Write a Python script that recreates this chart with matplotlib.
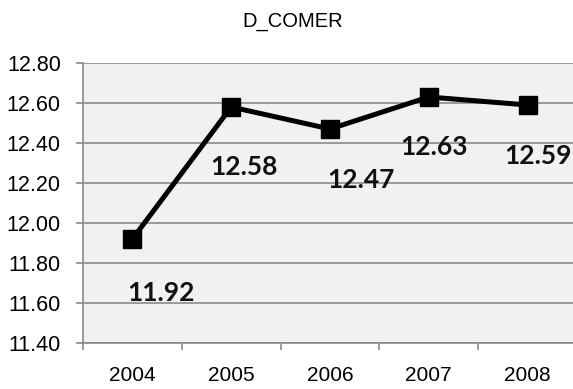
import matplotlib.pyplot as plt
import numpy as np

#data
years = ['2004', '2005', '2006', '2007', '2008']
values = [11.92, 12.58, 12.47, 12.63, 12.59]
#where each value label sits, relative to its point (pixels)
label_offsets = [(29, -54), (13, -60), (31, -51), (5, -50), (10, -51)]

plt.rcParams['font.family'] = ['Liberation Sans', 'DejaVu Sans']

fig = plt.figure(figsize=(5.73, 3.89), dpi=100)
ax = fig.add_axes([0.1449, 0.1183, 0.862, 0.7198])
ax.set_facecolor('#f1f1f1')

x = np.arange(len(years))
ax.plot(x, values, color='black', linewidth=3.6, marker='s', markersize=13,
        solid_joinstyle='miter')

#value labels
for xi, v, off in zip(x, values, label_offsets):
    ax.annotate(f'{v:.2f}', (xi, v), xytext=off, textcoords='offset pixels',
                ha='center', va='center', fontsize=19, fontweight='bold',
                family=['Lato', 'DejaVu Sans'], color='#111111')

#axes setup
ax.set_xlim(-0.5, len(years) - 0.5)
ax.set_ylim(11.40, 12.80)
ax.set_yticks(np.arange(11.40, 12.81, 0.20))
ax.set_yticklabels([f'{t:.2f}' for t in np.arange(11.40, 12.81, 0.20)])
ax.yaxis.grid(True, color='#8a8a8a', linewidth=1.2)
ax.set_axisbelow(True)

ax.set_xticks(np.arange(-0.5, len(years), 1.0))
ax.set_xticklabels([])
ax.set_xticks(x, minor=True)
ax.set_xticklabels(years, minor=True)
ax.tick_params(axis='x', which='minor', length=0, pad=16.5, labelsize=15)
ax.tick_params(axis='x', which='major', length=5, color='#8a8a8a', width=1.2)
ax.tick_params(axis='y', length=5, color='#8a8a8a', width=1.2, pad=11, labelsize=15.5)

for side in ['top', 'right']:
    ax.spines[side].set_visible(False)
for side in ['left', 'bottom']:
    ax.spines[side].set_color('#8a8a8a')
    ax.spines[side].set_linewidth(1.2)

fig.text(0.51, 0.945, 'D_COMER', ha='center', va='center', fontsize=14.5)

fig.savefig('out.png', dpi=100)
